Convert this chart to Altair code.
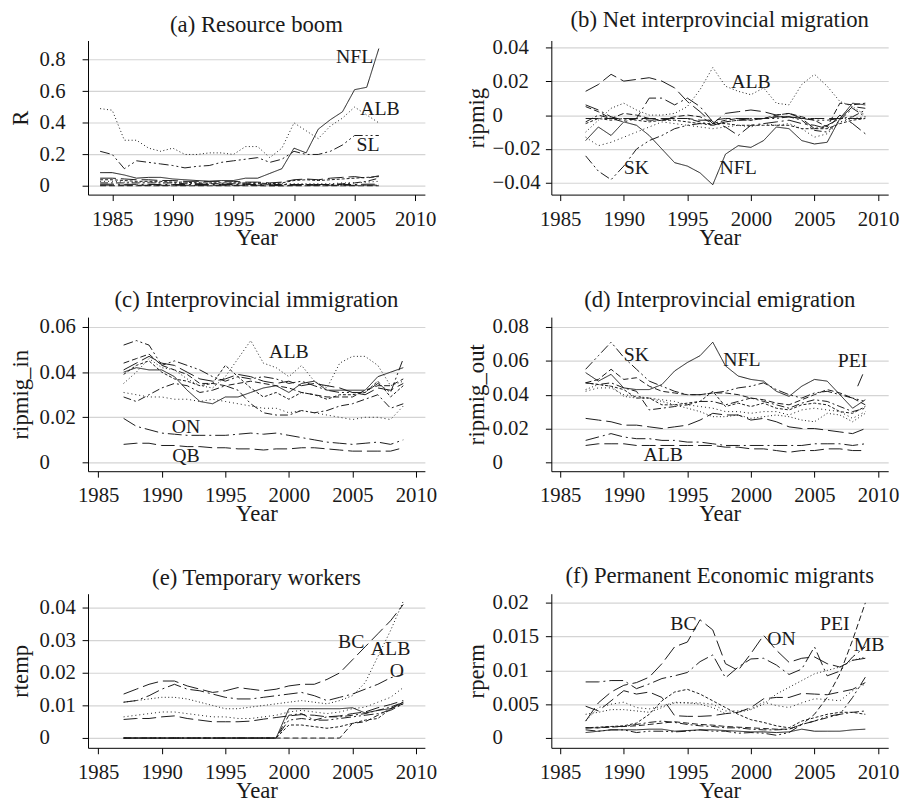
import altair as alt
import pandas as pd

FONT = "Liberation Serif"
INK = "#1a1a1a"

PROVS = ["NFL", "PEI", "NS", "NB", "QB", "ON", "MB", "SK", "ALB", "BC"]
DASHES = [[1, 0], [6, 3], [3, 2], [8, 3, 2, 3], [14, 5], [14, 4, 2, 4],
          [1, 3], [10, 3, 2, 3, 2, 3], [1, 2.5], [16, 5]]

YEARS_A = list(range(1984, 2008))
YEARS = list(range(1987, 2010))

# (a) Resource boom, R
R = {
    "NFL": [0.085, 0.085, 0.07, 0.05, 0.055, 0.055, 0.045, 0.04, 0.035, 0.03, 0.035, 0.035, 0.05, 0.05, 0.08, 0.11, 0.24, 0.21, 0.36, 0.42, 0.47, 0.61, 0.625, 0.87],
    "ALB": [0.49, 0.48, 0.29, 0.29, 0.24, 0.22, 0.24, 0.20, 0.20, 0.21, 0.21, 0.20, 0.25, 0.25, 0.18, 0.24, 0.40, 0.35, 0.30, 0.38, 0.43, 0.50, 0.45, 0.40],
    "SK": [0.22, 0.20, 0.11, 0.16, 0.15, 0.14, 0.13, 0.115, 0.125, 0.13, 0.15, 0.16, 0.17, 0.18, 0.15, 0.17, 0.22, 0.20, 0.20, 0.22, 0.26, 0.32, 0.32, 0.32],
    "BC": [0.05, 0.05, 0.045, 0.04, 0.04, 0.035, 0.035, 0.03, 0.03, 0.03, 0.03, 0.03, 0.025, 0.025, 0.02, 0.025, 0.04, 0.045, 0.04, 0.05, 0.055, 0.06, 0.05, 0.065],
    "NS": [0.04, 0.04, 0.035, 0.03, 0.03, 0.03, 0.025, 0.025, 0.02, 0.02, 0.02, 0.02, 0.02, 0.02, 0.015, 0.02, 0.035, 0.04, 0.035, 0.04, 0.045, 0.05, 0.055, 0.06],
    "MB": [0.03, 0.03, 0.025, 0.025, 0.025, 0.02, 0.02, 0.02, 0.02, 0.02, 0.02, 0.02, 0.02, 0.02, 0.015, 0.015, 0.015, 0.015, 0.015, 0.015, 0.02, 0.02, 0.025, 0.03],
    "NB": [0.02, 0.02, 0.02, 0.02, 0.02, 0.02, 0.02, 0.015, 0.015, 0.015, 0.015, 0.015, 0.015, 0.015, 0.01, 0.01, 0.01, 0.01, 0.01, 0.01, 0.015, 0.02, 0.03, 0.05],
    "ON": [0.012, 0.012, 0.011, 0.011, 0.01, 0.01, 0.01, 0.01, 0.01, 0.01, 0.01, 0.01, 0.01, 0.01, 0.008, 0.008, 0.01, 0.01, 0.01, 0.01, 0.01, 0.01, 0.012, 0.012],
    "QB": [0.006, 0.006, 0.006, 0.005, 0.005, 0.005, 0.005, 0.005, 0.005, 0.005, 0.005, 0.005, 0.005, 0.005, 0.004, 0.004, 0.005, 0.005, 0.005, 0.005, 0.005, 0.005, 0.006, 0.006],
    "PEI": [0.002, 0.002, 0.002, 0.002, 0.002, 0.002, 0.002, 0.002, 0.002, 0.002, 0.002, 0.002, 0.002, 0.002, 0.001, 0.001, 0.002, 0.002, 0.002, 0.002, 0.002, 0.002, 0.002, 0.002],
}

# (b) Net interprovincial migration, ripmig
RIPMIG = {
    "NFL": [-0.015, -0.007, -0.012, -0.004, -0.006, -0.012, -0.020, -0.028, -0.030, -0.034, -0.041, -0.023, -0.018, -0.019, -0.015, -0.007, -0.008, -0.015, -0.017, -0.016, -0.002, 0.007, 0.006],
    "ALB": [-0.010, -0.003, 0.004, 0.007, 0.003, 0.000, 0.000, 0.001, 0.005, 0.015, 0.028, 0.017, 0.014, 0.012, 0.016, 0.007, 0.006, 0.018, 0.024, 0.017, 0.008, 0.005, 0.000],
    "SK": [-0.024, -0.033, -0.038, -0.030, -0.020, -0.015, -0.012, -0.008, -0.006, -0.005, -0.006, -0.004, -0.003, -0.003, -0.002, -0.002, -0.001, -0.002, -0.003, -0.003, -0.002, -0.001, 0.003],
    "BC": [0.014, 0.018, 0.024, 0.020, 0.021, 0.022, 0.020, 0.016, 0.008, 0.002, -0.005, 0.001, 0.002, 0.003, 0.002, 0.000, 0.001, -0.002, -0.008, -0.006, -0.002, 0.005, 0.004],
    "ON": [0.006, 0.003, -0.001, -0.003, -0.002, 0.010, 0.010, 0.006, 0.010, 0.005, -0.004, -0.007, -0.012, -0.006, -0.005, -0.004, -0.003, -0.005, -0.006, -0.008, 0.000, -0.005, -0.011],
    "MB": [-0.013, -0.018, -0.016, -0.013, -0.010, -0.007, -0.004, -0.005, -0.006, -0.007, -0.008, -0.007, -0.006, -0.007, -0.005, -0.006, -0.005, -0.008, -0.013, -0.011, -0.004, -0.002, -0.001],
    "NB": [-0.004, 0.000, -0.002, -0.004, -0.002, -0.003, -0.003, -0.002, -0.002, -0.004, -0.006, -0.004, -0.003, -0.002, -0.002, -0.001, -0.001, -0.003, -0.009, -0.010, -0.003, 0.004, -0.001],
    "PEI": [0.005, 0.002, -0.002, 0.001, 0.000, -0.002, -0.003, -0.001, 0.000, -0.001, -0.005, -0.003, -0.002, -0.003, -0.002, 0.000, 0.001, -0.001, -0.003, -0.007, 0.007, 0.006, 0.007],
    "NS": [-0.005, -0.002, -0.003, -0.002, -0.003, -0.004, -0.003, -0.003, -0.004, -0.005, -0.005, -0.005, -0.006, -0.006, -0.006, -0.006, -0.006, -0.008, -0.008, -0.008, -0.005, -0.003, -0.002],
    "QB": [-0.002, -0.002, -0.002, -0.002, -0.002, -0.002, -0.002, -0.002, -0.002, -0.003, -0.003, -0.002, -0.002, -0.002, -0.002, -0.001, -0.001, -0.002, -0.002, -0.002, -0.002, -0.002, -0.002],
}

# (c) Interprovincial immigration, ripmig_in
RIPMIG_IN = {
    "NFL": [0.040, 0.042, 0.041, 0.041, 0.038, 0.032, 0.027, 0.026, 0.029, 0.029, 0.031, 0.033, 0.034, 0.031, 0.035, 0.036, 0.032, 0.032, 0.032, 0.032, 0.038, 0.040, 0.042],
    "ALB": [0.035, 0.040, 0.046, 0.042, 0.041, 0.037, 0.034, 0.033, 0.038, 0.046, 0.054, 0.044, 0.042, 0.038, 0.043, 0.036, 0.033, 0.044, 0.047, 0.047, 0.043, 0.034, 0.036],
    "ON": [0.0195, 0.016, 0.0145, 0.013, 0.0125, 0.012, 0.012, 0.012, 0.012, 0.0125, 0.013, 0.0125, 0.013, 0.012, 0.011, 0.010, 0.009, 0.0085, 0.008, 0.0085, 0.009, 0.008, 0.010],
    "QB": [0.008, 0.0085, 0.0085, 0.0075, 0.0075, 0.007, 0.007, 0.0065, 0.0065, 0.006, 0.006, 0.0055, 0.006, 0.006, 0.0065, 0.0065, 0.006, 0.0055, 0.005, 0.005, 0.005, 0.005, 0.0065],
    "SK": [0.052, 0.054, 0.052, 0.043, 0.045, 0.043, 0.041, 0.038, 0.036, 0.038, 0.037, 0.038, 0.037, 0.035, 0.036, 0.034, 0.032, 0.031, 0.031, 0.031, 0.035, 0.031, 0.046],
    "PEI": [0.044, 0.046, 0.048, 0.043, 0.041, 0.039, 0.035, 0.035, 0.034, 0.035, 0.036, 0.035, 0.034, 0.033, 0.031, 0.030, 0.029, 0.029, 0.029, 0.032, 0.034, 0.034, 0.037],
    "NS": [0.039, 0.043, 0.045, 0.040, 0.037, 0.036, 0.034, 0.035, 0.043, 0.038, 0.033, 0.029, 0.031, 0.028, 0.031, 0.030, 0.028, 0.030, 0.030, 0.031, 0.036, 0.029, 0.034],
    "NB": [0.029, 0.027, 0.030, 0.033, 0.035, 0.034, 0.031, 0.032, 0.034, 0.032, 0.026, 0.022, 0.021, 0.021, 0.023, 0.022, 0.023, 0.025, 0.026, 0.028, 0.030, 0.024, 0.026],
    "MB": [0.031, 0.030, 0.029, 0.029, 0.028, 0.028, 0.027, 0.028, 0.027, 0.026, 0.025, 0.024, 0.024, 0.022, 0.023, 0.022, 0.021, 0.020, 0.019, 0.020, 0.020, 0.019, 0.025],
    "BC": [0.041, 0.044, 0.047, 0.044, 0.043, 0.040, 0.037, 0.036, 0.037, 0.039, 0.038, 0.036, 0.035, 0.036, 0.034, 0.035, 0.034, 0.033, 0.031, 0.030, 0.033, 0.032, 0.035],
}

# (d) Interprovincial emigration, ripmig_out
RIPMIG_OUT = {
    "NFL": [0.053, 0.048, 0.052, 0.044, 0.043, 0.043, 0.046, 0.054, 0.059, 0.063, 0.071, 0.057, 0.051, 0.049, 0.048, 0.042, 0.039, 0.045, 0.049, 0.048, 0.040, 0.032, 0.037],
    "SK": [0.055, 0.063, 0.071, 0.062, 0.055, 0.048, 0.045, 0.042, 0.040, 0.040, 0.041, 0.042, 0.044, 0.045, 0.047, 0.043, 0.040, 0.038, 0.041, 0.042, 0.040, 0.038, 0.036],
    "PEI": [0.047, 0.049, 0.055, 0.049, 0.050, 0.045, 0.042, 0.041, 0.040, 0.040, 0.041, 0.041, 0.040, 0.038, 0.037, 0.035, 0.034, 0.037, 0.040, 0.043, 0.041, 0.038, 0.034],
    "ON": [0.013, 0.015, 0.017, 0.015, 0.014, 0.014, 0.013, 0.013, 0.012, 0.012, 0.011, 0.010, 0.010, 0.010, 0.010, 0.010, 0.010, 0.010, 0.011, 0.011, 0.011, 0.010, 0.011],
    "QB": [0.010, 0.011, 0.011, 0.011, 0.010, 0.010, 0.010, 0.010, 0.010, 0.010, 0.010, 0.009, 0.009, 0.008, 0.008, 0.007, 0.006, 0.007, 0.007, 0.008, 0.008, 0.007, 0.007],
    "BC": [0.026, 0.025, 0.024, 0.022, 0.022, 0.021, 0.020, 0.021, 0.022, 0.025, 0.029, 0.028, 0.028, 0.025, 0.026, 0.024, 0.021, 0.020, 0.020, 0.019, 0.018, 0.017, 0.020],
    "ALB": [0.043, 0.046, 0.045, 0.039, 0.038, 0.038, 0.036, 0.034, 0.032, 0.030, 0.027, 0.027, 0.028, 0.026, 0.027, 0.028, 0.027, 0.025, 0.024, 0.029, 0.028, 0.024, 0.029],
    "NS": [0.047, 0.046, 0.045, 0.043, 0.038, 0.038, 0.034, 0.034, 0.035, 0.036, 0.042, 0.033, 0.035, 0.033, 0.035, 0.032, 0.031, 0.034, 0.035, 0.034, 0.030, 0.029, 0.033],
    "NB": [0.047, 0.046, 0.047, 0.044, 0.042, 0.031, 0.032, 0.033, 0.034, 0.036, 0.036, 0.034, 0.036, 0.038, 0.036, 0.034, 0.032, 0.035, 0.037, 0.036, 0.033, 0.030, 0.032],
    "MB": [0.042, 0.044, 0.044, 0.040, 0.039, 0.038, 0.037, 0.036, 0.034, 0.033, 0.032, 0.030, 0.030, 0.029, 0.030, 0.030, 0.028, 0.031, 0.032, 0.031, 0.030, 0.026, 0.030],
}

# (e) Temporary workers, rtemp
RTEMP = {
    "ALB": [0.011, 0.0115, 0.012, 0.0125, 0.0125, 0.012, 0.011, 0.010, 0.009, 0.009, 0.0095, 0.010, 0.0105, 0.011, 0.0115, 0.011, 0.0105, 0.0115, 0.013, 0.017, 0.025, 0.033, 0.042],
    "BC": [0.0135, 0.015, 0.0165, 0.0175, 0.0175, 0.016, 0.015, 0.014, 0.0145, 0.0155, 0.015, 0.0145, 0.015, 0.016, 0.0165, 0.0165, 0.018, 0.020, 0.024, 0.028, 0.032, 0.036, 0.041],
    "ON": [0.011, 0.0115, 0.013, 0.015, 0.0165, 0.015, 0.0145, 0.0135, 0.0125, 0.012, 0.012, 0.0125, 0.013, 0.0135, 0.014, 0.013, 0.0115, 0.0125, 0.0135, 0.015, 0.0165, 0.0185, 0.0195],
    "MB": [0.0065, 0.007, 0.0075, 0.008, 0.008, 0.0075, 0.007, 0.0065, 0.0065, 0.006, 0.006, 0.0065, 0.007, 0.008, 0.0085, 0.008, 0.0075, 0.008, 0.009, 0.0095, 0.011, 0.0125, 0.0155],
    "QB": [0.0057, 0.006, 0.006, 0.0065, 0.0068, 0.006, 0.0055, 0.005, 0.005, 0.005, 0.0052, 0.0058, 0.0063, 0.0068, 0.0072, 0.007, 0.0065, 0.0068, 0.0075, 0.008, 0.0093, 0.0103, 0.0115],
    "NFL": [0, 0, 0, 0, 0, 0, 0, 0, 0, 0, 0, 0, 0, 0.009, 0.009, 0.009, 0.009, 0.009, 0.0093, 0.0077, 0.0085, 0.009, 0.011],
    "NS": [0, 0, 0, 0, 0, 0, 0, 0, 0, 0, 0, 0, 0, 0.004, 0.004, 0.0035, 0.003, 0.0035, 0.0045, 0.0055, 0.006, 0.009, 0.011],
    "NB": [0, 0, 0, 0, 0, 0, 0, 0, 0, 0, 0, 0, 0, 0.007, 0.0075, 0.0055, 0.0065, 0.0065, 0.007, 0.0075, 0.0085, 0.0095, 0.011],
    "PEI": [0, 0, 0, 0, 0, 0, 0, 0, 0, 0, 0, 0, 0, 0, 0, 0, 0, 0, 0.0045, 0.005, 0.007, 0.009, 0.0105],
    "SK": [0, 0, 0, 0, 0, 0, 0, 0, 0, 0, 0, 0, 0, 0.0055, 0.006, 0.0055, 0.0055, 0.006, 0.0065, 0.007, 0.0075, 0.0085, 0.0105],
}

# (f) Permanent Economic migrants, rperm
RPERM = {
    "BC": [0.0025, 0.0052, 0.0068, 0.0078, 0.0082, 0.0090, 0.0110, 0.0135, 0.0142, 0.0175, 0.0160, 0.0110, 0.0100, 0.0125, 0.0152, 0.0130, 0.0112, 0.0118, 0.0120, 0.0110, 0.0105, 0.0115, 0.0118],
    "ON": [0.0083, 0.0083, 0.0085, 0.0085, 0.0073, 0.0080, 0.0088, 0.0092, 0.0097, 0.0113, 0.0123, 0.0089, 0.0105, 0.0117, 0.0118, 0.0108, 0.0094, 0.0102, 0.0135, 0.0092, 0.0099, 0.0120, 0.0135],
    "PEI": [0.0015, 0.0015, 0.0016, 0.0017, 0.0018, 0.0020, 0.0022, 0.0024, 0.0022, 0.0020, 0.0019, 0.0017, 0.0016, 0.0015, 0.0014, 0.0013, 0.0013, 0.0020, 0.0035, 0.0060, 0.0095, 0.0145, 0.0200],
    "MB": [0.0025, 0.0045, 0.0050, 0.0053, 0.0045, 0.0043, 0.0047, 0.0053, 0.0052, 0.0052, 0.0050, 0.0040, 0.0040, 0.0043, 0.0053, 0.0048, 0.0045, 0.0052, 0.0058, 0.0057, 0.0055, 0.0070, 0.0080],
    "ALB": [0.0035, 0.0038, 0.0042, 0.0042, 0.0040, 0.0038, 0.0045, 0.0052, 0.0052, 0.0050, 0.0045, 0.0036, 0.0038, 0.0042, 0.0050, 0.0065, 0.0075, 0.0085, 0.0095, 0.0100, 0.0105, 0.0115, 0.0120],
    "QB": [0.0047, 0.0040, 0.0055, 0.0070, 0.0065, 0.0068, 0.0060, 0.0033, 0.0032, 0.0032, 0.0033, 0.0036, 0.0038, 0.0045, 0.0058, 0.0060, 0.0060, 0.0066, 0.0065, 0.0064, 0.0068, 0.0072, 0.0082],
    "NS": [0.0015, 0.0016, 0.0017, 0.0018, 0.0022, 0.0035, 0.0055, 0.0068, 0.0072, 0.0065, 0.0055, 0.0045, 0.0035, 0.0027, 0.0023, 0.0018, 0.0015, 0.0025, 0.0030, 0.0035, 0.0038, 0.0038, 0.0035],
    "NB": [0.0015, 0.0015, 0.0017, 0.0017, 0.0020, 0.0023, 0.0025, 0.0023, 0.0020, 0.0018, 0.0017, 0.0015, 0.0015, 0.0013, 0.0012, 0.0012, 0.0013, 0.0020, 0.0025, 0.0030, 0.0035, 0.0038, 0.0040],
    "SK": [0.0012, 0.0010, 0.0012, 0.0012, 0.0008, 0.0010, 0.0010, 0.0009, 0.0010, 0.0012, 0.0010, 0.0010, 0.0007, 0.0008, 0.0007, 0.0004, 0.0008, 0.0020, 0.0025, 0.0032, 0.0035, 0.0060, 0.0090],
    "NFL": [0.0008, 0.0010, 0.0012, 0.0012, 0.0012, 0.0013, 0.0013, 0.0010, 0.0011, 0.0012, 0.0012, 0.0011, 0.0010, 0.0009, 0.0009, 0.0008, 0.0009, 0.0013, 0.0010, 0.0010, 0.0010, 0.0012, 0.0013],
}

# in-plot labels: (text, year, value)
LAB_A = [("NFL", 2005.0, 0.817), ("ALB", 2007.1, 0.49), ("SL", 2006.1, 0.26)]
LAB_B = [("ALB", 2000.0, 0.0195), ("SK", 1991.0, -0.031), ("NFL", 1999.0, -0.031)]
LAB_C = [("ALB", 2000.0, 0.049), ("ON", 1991.9, 0.0157), ("QB", 1991.9, 0.0026)]
LAB_D = [("SK", 1991.0, 0.0635), ("NFL", 1999.3, 0.0606), ("PEI", 2008.0, 0.0597), ("ALB", 1993.1, 0.0045)]
LAB_E = [("BC", 2004.9, 0.0296), ("ALB", 2008.0, 0.0274), ("O", 2008.5, 0.0205)]
LAB_F = [("BC", 1994.7, 0.0169), ("ON", 2002.4, 0.0147), ("PEI", 2006.6, 0.0169), ("MB", 2009.3, 0.0138)]
LEADER_D = [(2008.8, 0.052, 2008.4, 0.045)]

X_TICKS = [1985, 1990, 1995, 2000, 2005, 2010]
XDOM_A = [1983.0, 2010.8]
XDOM_L = [1984.2, 2010.7]
XDOM_R = [1984.3, 2010.8]

W, H = 341, 156


def long_df(d, years):
    rows = []
    for p, vals in d.items():
        for y, v in zip(years, vals):
            rows.append({"year": y, "value": v, "prov": p})
    return pd.DataFrame(rows)


def panel(d, years, xdom, ydom, yticks, title, ytitle, labels, left, pad_pos=False, leaders=None):
    fmt = "format(datum.value, '~g')"
    if pad_pos:
        fmt = "(datum.value >= 0 ? '\u00a0\u00a0' : '') + format(datum.value, '~g')"
    yaxis = alt.Axis(
        values=yticks, tickCount=20, title=ytitle, labelExpr=fmt, labelAlign="left",
        labelOverlap=False, labelFont=FONT, titleFont=FONT, labelFontSize=21, titleFontSize=23,
        labelPadding=43.5 if left else 54, minExtent=50 if left else 60,
        maxExtent=50 if left else 60, titlePadding=6 if left else 4,
        grid=True, gridColor="#d4d4d4", gridWidth=1.2,
    )
    xaxis = alt.Axis(values=X_TICKS, tickCount=20, title="Year", format="d", grid=False,
                     labelFont=FONT, titleFont=FONT, labelFontSize=21, titleFontSize=23,
                     labelOverlap=False, labelFlush=False, labelPadding=8, titlePadding=-3)
    xs = alt.Scale(domain=xdom, nice=False, zero=False)
    ys = alt.Scale(domain=ydom, nice=False, zero=False)
    lines = alt.Chart(long_df(d, years)).mark_line(strokeWidth=1, color=INK, clip=True).encode(
        x=alt.X("year:Q", scale=xs, axis=xaxis),
        y=alt.Y("value:Q", scale=ys, axis=yaxis),
        strokeDash=alt.StrokeDash("prov:N", scale=alt.Scale(domain=PROVS, range=DASHES), legend=None),
        order="year:Q",
    )
    ldf = pd.DataFrame(labels, columns=["t", "year", "value"])
    text = alt.Chart(ldf).mark_text(font=FONT, fontSize=20, color=INK, baseline="middle").encode(
        x="year:Q", y="value:Q", text="t:N")
    layers = [lines, text]
    if leaders:
        lddf = pd.DataFrame(leaders, columns=["year", "value", "year2", "value2"])
        layers.append(alt.Chart(lddf).mark_rule(color=INK, strokeWidth=1).encode(
            x="year:Q", y="value:Q", x2="year2:Q", y2="value2:Q"))
    return alt.layer(*layers).properties(
        width=W, height=H,
        title=alt.TitleParams(title, font=FONT, fontSize=23, fontWeight="normal", color=INK,
                              anchor="middle", offset=4),
    )


pa = panel(R, YEARS_A, XDOM_A, [-0.054, 0.921], [0, 0.2, 0.4, 0.6, 0.8],
           "(a) Resource boom", "R", LAB_A, True)
pb = panel(RIPMIG, YEARS, XDOM_R, [-0.0468, 0.0439], [-0.04, -0.02, 0, 0.02, 0.04],
           "(b) Net interprovincial migration", "ripmig", LAB_B, False, pad_pos=True)
pc = panel(RIPMIG_IN, YEARS, XDOM_L, [-0.0039, 0.0644], [0, 0.02, 0.04, 0.06],
           "(c) Interprovincial immigration", "ripmig_in", LAB_C, True)
pd_ = panel(RIPMIG_OUT, YEARS, XDOM_R, [-0.0052, 0.0858], [0, 0.02, 0.04, 0.06, 0.08],
            "(d) Interprovincial emigration", "ripmig_out", LAB_D, False, leaders=LEADER_D)
pe = panel(RTEMP, YEARS, XDOM_L, [-0.003, 0.0443], [0, 0.01, 0.02, 0.03, 0.04],
           "(e) Temporary workers", "rtemp", LAB_E, True)
pf = panel(RPERM, YEARS, XDOM_R, [-0.00146, 0.02136], [0, 0.005, 0.01, 0.015, 0.02],
           "(f) Permanent Economic migrants", "rperm", LAB_F, False)

chart = alt.concat(pa, pb, pc, pd_, pe, pf, columns=2, spacing={"row": 124, "column": 128},
                   bounds="flush").properties(
    padding={"left": 2, "top": -4, "right": 5, "bottom": 0}
).configure(
    font=FONT, background="white",
    style={"guide-label": {"font": FONT}, "guide-title": {"font": FONT},
           "group-title": {"font": FONT}},
).configure_view(stroke=None).configure_axis(
    labelFont=FONT, titleFont=FONT,
    labelColor=INK, titleColor=INK, titleFontWeight="normal",
    domainColor="#000", tickColor="#000", tickSize=6, domainWidth=1, tickWidth=1,
)

chart.save("out.html", embed_options={"renderer": "svg", "actions": False})
